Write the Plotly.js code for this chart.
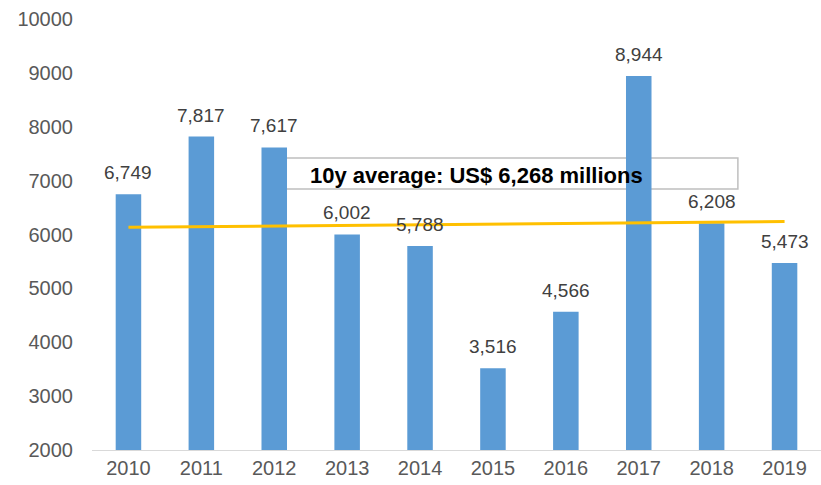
<!DOCTYPE html>
<html>
<head>
<meta charset="utf-8">
<script src="https://cdn.plot.ly/plotly-3.0.1.min.js"></script>
<style>html,body{margin:0;padding:0;background:#fff;}#chart{width:821px;height:485px;}</style>
</head>
<body>
<div id="chart"></div>
<script>
var years = ['2010','2011','2012','2013','2014','2015','2016','2017','2018','2019'];
var values = [6749, 7817, 7617, 6002, 5788, 3516, 4566, 8944, 6208, 5473];
var valueLabels = ['6,749','7,817','7,617','6,002','5,788','3,516','4,566','8,944','6,208','5,473'];
var avgLineX = ['2010', '2019'];
var avgLineY = [6135, 6240];
var avgText = '10y average: US$ 6,268 millions';
var yTicks = [2000, 3000, 4000, 5000, 6000, 7000, 8000, 9000, 10000];
var yTickText = ['2000','3000','4000','5000','6000','7000','8000','9000','10000'];

var FONT = 'Liberation Sans, Arial, sans-serif';

var traces = [
  {
    type: 'bar', x: years, y: values,
    marker: {color: '#5B9BD5'},
    hoverinfo: 'none'
  },
  {
    type: 'scatter', mode: 'lines', x: avgLineX, y: avgLineY,
    line: {color: '#FFC000', width: 3},
    hoverinfo: 'none'
  }
];

var annotations = years.map(function (yr, i) {
  return {
    x: i, y: values[i], xref: 'x', yref: 'y',
    text: valueLabels[i], showarrow: false,
    yanchor: 'bottom', yshift: 9,
    font: {family: FONT, size: 19, color: '#404040'}
  };
});
annotations.push({
  x: 0.528, y: 0.638, xref: 'paper', yref: 'paper',
  text: '<b>' + avgText + '</b>', showarrow: false,
  xanchor: 'center', yanchor: 'middle',
  font: {family: FONT, size: 22, color: '#000000'}
});

var layout = {
  width: 821, height: 485,
  margin: {l: 92, r: 0, t: 19, b: 35},
  paper_bgcolor: '#ffffff', plot_bgcolor: '#ffffff',
  showlegend: false,
  bargap: 0.65,
  font: {family: FONT, size: 20, color: '#595959'},
  xaxis: {
    type: 'category', range: [-0.5, 9.5], showgrid: false, zeroline: false,
    showline: true, linecolor: '#D9D9D9', linewidth: 1,
    ticks: '', tickfont: {family: FONT, size: 20, color: '#595959'}
  },
  yaxis: {
    range: [2000, 10000], tickvals: yTicks, ticktext: yTickText, showgrid: false,
    zeroline: false, showline: false, ticks: '',
    ticklabelstandoff: 18,
    tickfont: {family: FONT, size: 20, color: '#595959'}
  },
  shapes: [{
    type: 'rect', xref: 'paper', yref: 'paper', layer: 'below',
    x0: 0.266, x1: 0.886, y0: 0.6056, y1: 0.6775,
    line: {color: '#BFBFBF', width: 1.5}, fillcolor: 'rgba(0,0,0,0)'
  }],
  annotations: annotations
};

Plotly.newPlot('chart', traces, layout, {displayModeBar: false, staticPlot: true});
</script>
</body>
</html>
